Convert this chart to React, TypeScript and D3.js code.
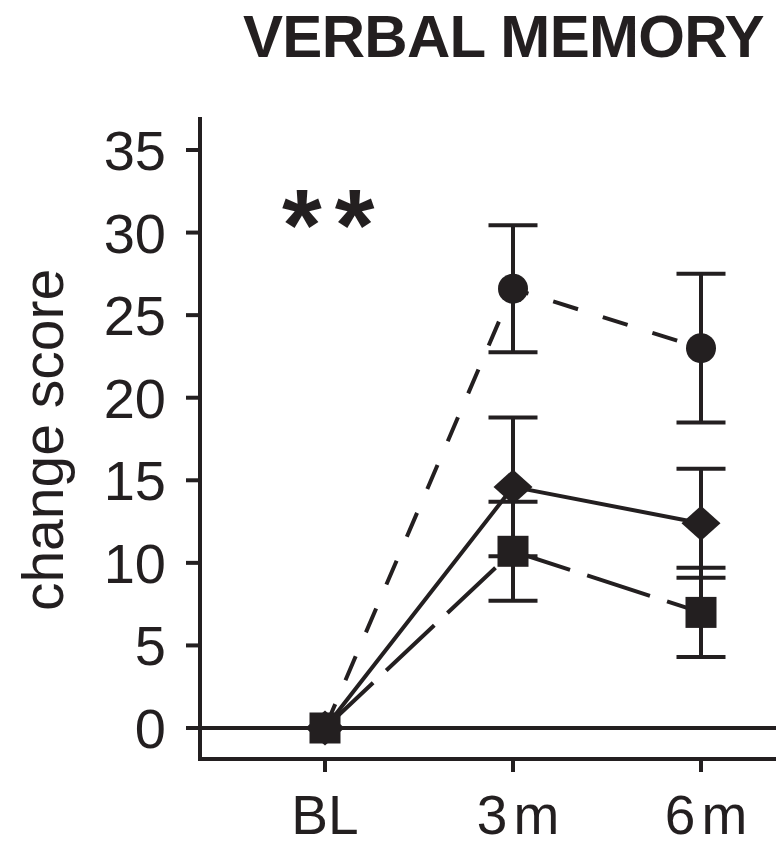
import * as d3 from "d3";
import React from "react";

const W = 776,
  H = 846;

// time points
const timepoints = ["BL", "3m", "6m"];
const yTicks = [0, 5, 10, 15, 20, 25, 30, 35];

// three groups, mean change score and error (SEM)
const circleMeans = [0, 26.6, 23.0];
const circleErr = [0, 3.85, 4.5];
const diamondMeans = [0, 14.6, 12.4];
const diamondErr = [0, 4.2, 3.3];
const squareMeans = [0, 10.7, 7.0];
const squareErr = [0, 3.0, 2.7];

const x = d3.scalePoint<string>().domain(timepoints).range([325, 701]);
const y = d3.scaleLinear().domain([0, 35]).range([728, 150]);

const font = "Liberation Sans, Arial, Helvetica, sans-serif";
const ink = "#231f20";

const series = [
  { name: "circle", means: circleMeans, err: circleErr, dash: "26 26", shape: "circle" },
  { name: "diamond", means: diamondMeans, err: diamondErr, dash: null, shape: "diamond" },
  { name: "square", means: squareMeans, err: squareErr, dash: "66 18", shape: "square" },
];

function marker(shape: string, cx: number, cy: number, key: string) {
  if (shape === "circle") return <circle key={key} cx={cx} cy={cy} r={15} fill={ink} />;
  if (shape === "square")
    return <rect key={key} x={cx - 15.5} y={cy - 15.5} width={31} height={31} fill={ink} />;
  const p = d3.path();
  p.moveTo(cx, cy - 17.5);
  p.lineTo(cx + 19.5, cy);
  p.lineTo(cx, cy + 17.5);
  p.lineTo(cx - 19.5, cy);
  p.closePath();
  return <path key={key} d={p.toString()} fill={ink} />;
}

export default function App() {
  const line = d3
    .line<number>()
    .x((d, i) => x(timepoints[i]) as number)
    .y((d) => y(d));

  const capHalf = 24.5;
  const axisY = 759;

  return (
    <svg
      width={W}
      height={H}
      style={{ position: "absolute", left: 0, top: 0, background: "#fff" }}
    >
      <text
        x={243}
        y={57}
        fontFamily={font}
        fontWeight="bold"
        fontSize={60}
        letterSpacing={-0.7}
        fill={ink}
      >
        VERBAL MEMORY
      </text>

      {/* y axis */}
      <line x1={200} x2={200} y1={117} y2={axisY + 2} stroke={ink} strokeWidth={4} />
      {yTicks.map((t) => (
        <g key={t}>
          <line x1={186} x2={200} y1={y(t)} y2={y(t)} stroke={ink} strokeWidth={4} />
          <text
            x={166}
            y={y(t) + 20}
            textAnchor="end"
            fontFamily={font}
            fontSize={56}
            fill={ink}
          >
            {t}
          </text>
        </g>
      ))}
      <text
        transform={`translate(63,440) rotate(-90)`}
        textAnchor="middle"
        fontFamily={font}
        fontSize={57}
        fill={ink}
      >
        change score
      </text>

      {/* zero line */}
      <line x1={186} x2={W} y1={y(0)} y2={y(0)} stroke={ink} strokeWidth={4} />

      {/* x axis */}
      <line x1={198} x2={W} y1={axisY} y2={axisY} stroke={ink} strokeWidth={4} />
      {timepoints.map((t) => (
        <g key={t}>
          <line
            x1={x(t)}
            x2={x(t)}
            y1={axisY}
            y2={axisY + 13}
            stroke={ink}
            strokeWidth={4}
          />
          <text
            x={(x(t) as number) + (t === "BL" ? 0 : 8)}
            y={834}
            textAnchor="middle"
            fontFamily={font}
            fontSize={55}
            fill={ink}
            letterSpacing={t === "BL" ? 0 : 6}
          >
            {t}
          </text>
        </g>
      ))}

      <text
        x={282}
        y={260}
        fontFamily={font}
        fontWeight="bold"
        fontSize={102}
        letterSpacing={13}
        fill={ink}
      >
        **
      </text>

      {/* lines */}
      {series.map((s) => (
        <path
          key={s.name}
          d={line(s.means) as string}
          fill="none"
          stroke={ink}
          strokeWidth={4}
          strokeDasharray={s.dash ?? undefined}
        />
      ))}

      {/* error bars */}
      {series.map((s) =>
        s.means.map((m, i) => {
          if (s.err[i] === 0) return null;
          const cx = x(timepoints[i]) as number;
          const top = y(m + s.err[i]);
          const bot = y(m - s.err[i]);
          return (
            <g key={s.name + i} stroke={ink} strokeWidth={4}>
              <line x1={cx} x2={cx} y1={top} y2={bot} />
              <line x1={cx - capHalf} x2={cx + capHalf} y1={top} y2={top} />
              <line x1={cx - capHalf} x2={cx + capHalf} y1={bot} y2={bot} />
            </g>
          );
        })
      )}

      {/* markers */}
      {series.map((s) =>
        s.means.map((m, i) => marker(s.shape, x(timepoints[i]) as number, y(m), s.name + "m" + i))
      )}
    </svg>
  );
}
